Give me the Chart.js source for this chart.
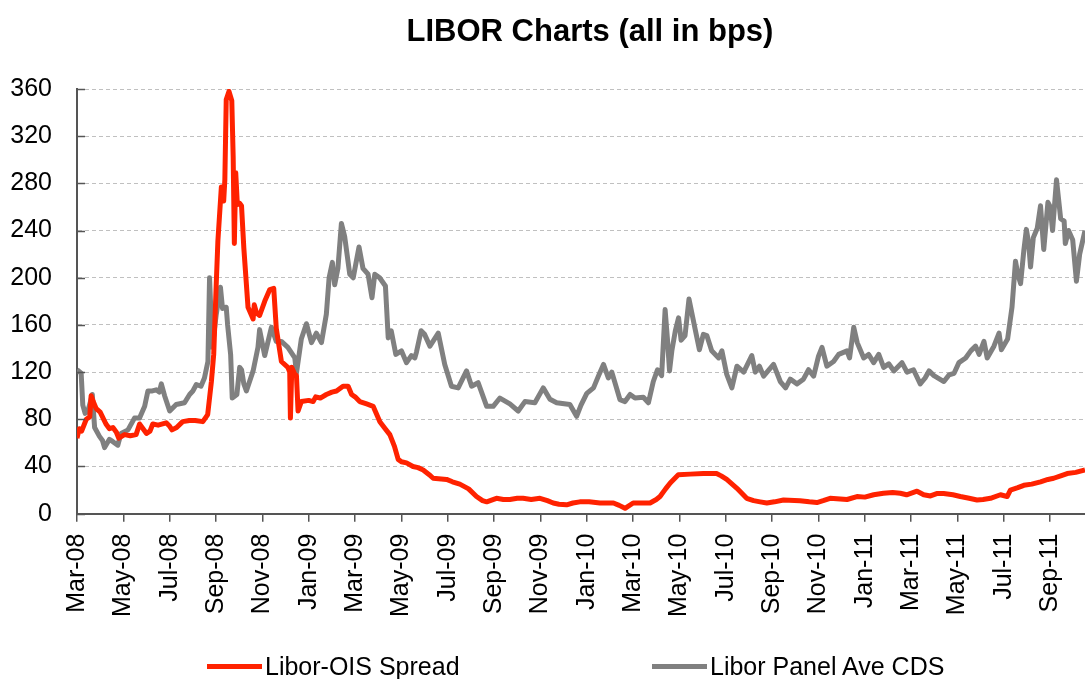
<!DOCTYPE html>
<html>
<head>
<meta charset="utf-8">
<script src="https://cdn.jsdelivr.net/npm/chart.js@4.4.1/dist/chart.umd.min.js"></script>
<style>
  body { margin: 0; background: #fff; font-family: "Liberation Sans", Arial, sans-serif; }
  #wrap { position: relative; width: 1085px; height: 679px; }
  #title { position: absolute; left: 590px; top: 13px; transform: translateX(-50%); font-weight: bold; font-size: 31px; white-space: nowrap; color: #000; }
  .swatch { position: absolute; height: 5px; width: 55px; top: 664px; }
  .ltext { position: absolute; top: 651px; font-size: 25px; line-height: 30px; color: #000; white-space: nowrap; }
</style>
</head>
<body>
<div id="wrap">
  <canvas id="myChart"></canvas>
  <div id="title">LIBOR Charts (all in bps)</div>
  <div class="swatch" style="left:207px;background:#ff2200"></div>
  <div class="ltext" style="left:265px">Libor-OIS Spread</div>
  <div class="swatch" style="left:652px;background:#808080"></div>
  <div class="ltext" style="left:710px">Libor Panel Ave CDS</div>
</div>
<script>
// Monate ab Mar-08 (x) und Werte in bps
const xTickLabels = ["Mar-08", "May-08", "Jul-08", "Sep-08", "Nov-08", "Jan-09", "Mar-09", "May-09",
  "Jul-09", "Sep-09", "Nov-09", "Jan-10", "Mar-10", "May-10", "Jul-10", "Sep-10", "Nov-10",
  "Jan-11", "Mar-11", "May-11", "Jul-11", "Sep-11"];

const oisMonths = [0, 0.1, 0.2, 0.4, 0.55, 0.61, 0.7, 0.83, 1.0, 1.1, 1.25, 1.4, 1.55, 1.7, 1.8, 2.05, 2.3, 2.55, 2.7, 2.85,
  3.0, 3.15, 3.27, 3.5, 3.85, 4.0, 4.1, 4.3, 4.56, 4.85, 5.1, 5.43, 5.64, 5.8, 5.9, 6.0, 6.08, 6.23, 6.33, 6.38,
  6.44, 6.56, 6.68, 6.74, 6.79, 6.85, 6.92, 7.02, 7.1, 7.2, 7.38, 7.6, 7.65, 7.75, 7.88, 8.1, 8.32, 8.49, 8.6, 8.82,
  9.1, 9.18, 9.21, 9.27, 9.4, 9.47, 9.54, 9.68, 10.0, 10.19, 10.3, 10.5, 10.76, 11.0, 11.2, 11.48, 11.7, 11.85, 12.0, 12.2,
  12.5, 12.78, 13.07, 13.3, 13.5, 13.7, 13.86, 14.0, 14.22, 14.5, 14.72, 14.94, 15.2, 15.37, 15.95, 16.2, 16.52, 16.9, 17.24, 17.5,
  17.68, 18.1, 18.4, 18.68, 19.0, 19.25, 19.6, 19.98, 20.3, 20.55, 20.8, 21.13, 21.4, 21.7, 22.1, 22.57, 23.15, 23.4, 23.65, 24.0,
  24.4, 24.73, 25.0, 25.16, 25.4, 25.6, 25.95, 26.46, 27.03, 27.6, 27.8, 28.04, 28.48, 28.9, 29.2, 29.48, 29.77, 30.1, 30.49, 31.2,
  31.6, 31.93, 32.2, 32.5, 33.23, 33.66, 34.0, 34.38, 34.8, 35.2, 35.53, 35.8, 36.25, 36.54, 36.83, 37.1, 37.4, 37.8, 38.12, 38.5,
  38.84, 39.1, 39.42, 39.85, 40.14, 40.28, 40.6, 40.86, 41.2, 41.58, 41.9, 42.15, 42.45, 42.73, 43.1, 43.5];
const oisValues = [64, 72, 70, 80, 82, 100, 95, 89, 86, 82, 76, 72, 73, 69, 64, 67, 66, 67, 76, 72,
  68, 70, 76, 75, 77, 74, 71, 73, 78, 79, 79, 78, 84, 112, 135, 190, 231, 277, 265, 283,
  351, 358, 350, 302, 229, 289, 262, 263, 261, 225, 175, 165, 177, 170, 168, 180, 190, 191, 157, 129,
  124, 120, 81, 124, 118, 117, 87, 95, 96, 95, 99, 98, 101, 103, 104, 108, 108, 101, 99, 95,
  93, 91, 78, 72, 67, 57, 46, 44, 43, 40, 39, 37, 33, 30, 29, 27, 25, 21, 14.5, 11,
  10, 13, 12, 12, 13, 13, 12, 13, 11, 9, 8, 7.5, 9, 10, 10, 9, 9, 7, 4.5, 9,
  9, 9, 12, 14.5, 21, 26, 33, 33.5, 34, 34, 32, 29, 21.5, 13, 11, 10, 9, 10, 11.6, 11,
  10, 9.4, 11, 13, 12, 14.5, 14, 16, 17.3, 18, 17.3, 16, 19, 16, 15, 17, 17, 16, 14.5, 13,
  11.6, 12, 13, 16, 14.5, 20, 22, 24, 25, 27, 29, 30, 32, 34, 35, 37];

const cdsMonths = [0, 0.18, 0.25, 0.35, 0.47, 0.58, 0.66, 0.76, 0.97, 1.1, 1.19, 1.4, 1.55, 1.76, 1.9, 2.2, 2.48, 2.7, 2.92, 3.06,
  3.25, 3.42, 3.55, 3.64, 3.78, 4.0, 4.28, 4.64, 4.86, 5.0, 5.15, 5.35, 5.5, 5.65, 5.72, 5.84, 6.01, 6.19, 6.28, 6.44,
  6.5, 6.63, 6.7, 6.9, 7.02, 7.1, 7.2, 7.31, 7.6, 7.81, 7.88, 8.1, 8.39, 8.6, 8.82, 9.1, 9.4, 9.47, 9.68, 9.9,
  10.12, 10.33, 10.55, 10.76, 10.88, 11.02, 11.12, 11.26, 11.41, 11.55, 11.77, 11.92, 12.17, 12.34, 12.56, 12.73, 12.85, 13.06, 13.31, 13.43,
  13.56, 13.76, 14.0, 14.22, 14.43, 14.58, 14.65, 14.85, 15.0, 15.23, 15.59, 15.87, 16.16, 16.45, 16.81, 17.03, 17.31, 17.68, 17.96, 18.25,
  18.68, 19.04, 19.33, 19.76, 20.12, 20.41, 20.7, 21.27, 21.56, 21.75, 22.0, 22.29, 22.5, 22.72, 22.93, 23.08, 23.43, 23.65, 23.87, 24.08,
  24.44, 24.66, 24.87, 25.05, 25.23, 25.38, 25.48, 25.57, 25.67, 25.82, 25.96, 26.07, 26.24, 26.41, 26.67, 26.86, 27.03, 27.18, 27.39, 27.69,
  27.83, 28.04, 28.26, 28.48, 28.77, 29.12, 29.27, 29.45, 29.63, 30.06, 30.35, 30.58, 30.78, 31.07, 31.35, 31.57, 31.79, 32.0, 32.15, 32.36,
  32.65, 32.87, 33.23, 33.34, 33.52, 33.67, 33.95, 34.16, 34.38, 34.6, 34.81, 35.03, 35.25, 35.6, 35.82, 36.1, 36.39, 36.6, 36.77, 36.98,
  37.41, 37.63, 37.85, 38.06, 38.35, 38.57, 38.78, 38.93, 39.14, 39.28, 39.57, 39.79, 39.89, 40.16, 40.35, 40.5, 40.6, 40.72, 40.86, 40.97,
  41.07, 41.15, 41.27, 41.44, 41.58, 41.72, 41.9, 42.0, 42.1, 42.27, 42.45, 42.6, 42.65, 42.79, 42.97, 43.13, 43.27, 43.5];
const cdsValues = [122, 119, 92, 85, 87, 95, 101, 73, 65.5, 62, 56, 63, 61, 58, 68, 71, 81, 81, 91, 104,
  104, 105, 103, 110, 100, 87, 92.5, 94, 101, 104, 109.5, 108, 115, 129, 200, 141, 169, 192, 174, 175,
  160, 135, 98, 101, 124, 122, 110, 104, 121, 141, 156, 134, 158, 146, 146, 141, 132, 119, 148, 161,
  145, 153, 145, 169, 200, 213, 194, 208, 246, 235, 203, 200, 226, 208, 203, 183, 203, 200, 193, 149,
  155, 135, 138, 128, 134, 132, 137, 155, 152, 142, 153, 126.5, 108, 106.6, 121, 108, 111, 91, 91, 98,
  93, 87, 95, 94, 106.6, 97, 94, 92.5, 82.5, 92, 102, 106.6, 116.6, 126.5, 115, 120, 96.7, 95, 101, 98,
  98.7, 94, 112, 122, 117, 173, 148, 121, 138, 155, 166, 147, 151, 182, 157, 139, 152, 151, 138, 132,
  138, 118, 106.6, 125, 120, 134, 120, 125, 116.6, 126.5, 112, 106.6, 114, 110, 114, 122, 116.6, 133.6, 141, 125,
  129, 135, 138, 132, 158, 145, 132, 135, 128, 135, 124, 127, 121, 128, 120, 122, 110, 115, 121, 117,
  112, 117.6, 119, 128, 132, 138, 142, 135, 146, 132, 142, 153, 139, 148, 175, 214, 203, 195, 223, 241,
  229, 209, 234, 242, 261, 224, 264, 260, 240, 283, 250, 248, 229, 240, 232, 197, 220, 240];

const yMin = 0, yMax = 360, yStep = 40;

function toPoints(xs, ys) {
  return xs.map((x, i) => ({ x: x, y: ys[i] }));
}

// kleine Striche nach innen an der y-Achse
const innerTicks = {
  id: 'innerTicks',
  afterDraw(chart) {
    const c = chart.ctx;
    const y = chart.scales.y;
    const left = chart.chartArea.left;
    c.save();
    c.strokeStyle = '#555';
    c.lineWidth = 1.5;
    y.ticks.forEach(t => {
      const py = Math.round(y.getPixelForValue(t.value)) + 0.5;
      c.beginPath();
      c.moveTo(left, py);
      c.lineTo(left + 8, py);
      c.stroke();
    });
    c.restore();
  }
};

// keine Extra-Ränder durch Achsenbeschriftungen
function noPadding(scale) {
  scale.paddingLeft = 0;
  scale.paddingRight = 0;
  scale.paddingTop = 0;
  scale.paddingBottom = 0;
}

const ctx = document.getElementById("myChart").getContext("2d");
const myChart = new Chart(ctx, {
  type: 'line',
  data: {
    datasets: [{
      label: 'Libor-OIS Spread',
      data: toPoints(oisMonths, oisValues),
      borderColor: '#ff2200',
      borderWidth: 5,
      pointRadius: 0,
      tension: 0,
      borderJoinStyle: 'round'
    }, {
      label: 'Libor Panel Ave CDS',
      data: toPoints(cdsMonths, cdsValues),
      borderColor: '#808080',
      borderWidth: 5,
      pointRadius: 0,
      tension: 0,
      borderJoinStyle: 'round'
    }]
  },
  options: {
    responsive: true,
    maintainAspectRatio: false,
    animation: false,
    layout: { padding: { top: 89, left: 10, right: 0, bottom: 50 } },
    plugins: {
      legend: { display: false },
      title: { display: false },
      tooltip: { enabled: false }
    },
    scales: {
      x: {
        type: 'linear',
        min: 0,
        max: 43.5,
        afterFit: noPadding,
        grid: { drawOnChartArea: false, drawTicks: true, tickLength: 8, color: '#555', lineWidth: 1.5 },
        border: { display: true, color: '#555', width: 2 },
        ticks: {
          stepSize: 2,
          includeBounds: false,
          autoSkip: false,
          maxRotation: 90,
          minRotation: 90,
          padding: 12,
          color: '#000',
          font: { family: 'Liberation Sans', size: 25 },
          callback: (v) => xTickLabels[v / 2] || ''
        }
      },
      y: {
        min: yMin,
        max: yMax,
        afterFit: (scale) => { noPadding(scale); scale.width = 67; },
        grid: { drawTicks: false, color: '#c0c0c0', lineWidth: 1 },
        border: { display: true, color: '#555', width: 2, dash: [4, 3] },
        ticks: {
          stepSize: yStep,
          padding: 25,
          color: '#000',
          font: { family: 'Liberation Sans', size: 25 }
        }
      }
    }
  },
  plugins: [innerTicks]
});
</script>
</body>
</html>
